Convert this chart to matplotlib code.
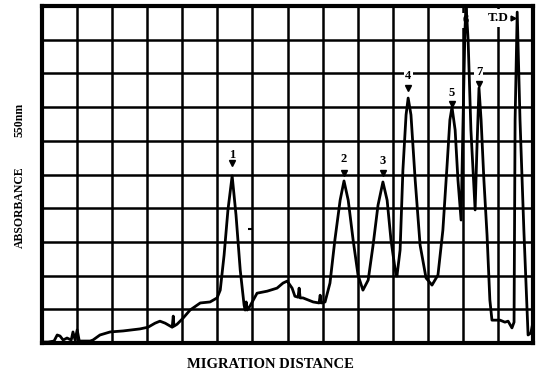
import matplotlib
matplotlib.use("Agg")
import matplotlib.pyplot as plt
import numpy as np

plt.rcParams.update({
    'font.family': ['Liberation Serif', 'DejaVu Serif'],
    'font.weight': 'bold',
})

# densitometer trace, in chart grid units (14 x 10 squares)
distance = [0.06, 0.17, 0.34, 0.43, 0.51, 0.60, 0.71, 0.83, 0.88, 0.94, 1.00, 1.06,
            1.37, 1.45, 1.65, 1.94, 2.31, 2.79, 3.02, 3.22, 3.36, 3.51, 3.71, 3.74,
            3.76, 3.85, 4.02, 4.22, 4.51, 4.79, 4.99, 5.08, 5.19, 5.30, 5.42, 5.53,
            5.65, 5.76, 5.79, 5.82, 5.85, 5.93, 6.13, 6.42, 6.70, 6.87, 6.99, 7.13,
            7.21, 7.30, 7.33, 7.36, 7.44, 7.73, 7.90, 7.93, 7.96, 8.07, 8.21, 8.35,
            8.50, 8.61, 8.73, 8.87, 9.01, 9.15, 9.30, 9.44, 9.58, 9.72, 9.84, 9.95,
            10.07, 10.12, 10.21, 10.29, 10.38, 10.44, 10.52, 10.64, 10.78, 10.95, 11.12, 11.29,
            11.43, 11.55, 11.63, 11.69, 11.78, 11.86, 11.95, 12.00, 12.06, 12.09, 12.15, 12.23,
            12.35, 12.40, 12.46, 12.52, 12.60, 12.69, 12.77, 12.83, 13.06, 13.20, 13.29, 13.40,
            13.46, 13.49, 13.55, 13.63, 13.74, 13.86, 13.94, 14.00]
absorbance = [0.03, 0.03, 0.06, 0.24, 0.21, 0.09, 0.15, 0.09, 0.33, 0.09, 0.39, 0.06,
              0.06, 0.09, 0.24, 0.33, 0.36, 0.42, 0.47, 0.59, 0.65, 0.59, 0.47, 0.80,
              0.50, 0.56, 0.74, 0.98, 1.19, 1.22, 1.34, 1.57, 2.61, 3.95, 4.96, 3.80,
              2.17, 1.13, 0.98, 1.22, 0.98, 1.10, 1.48, 1.54, 1.63, 1.78, 1.84, 1.63,
              1.39, 1.36, 1.63, 1.34, 1.34, 1.22, 1.19, 1.42, 1.19, 1.22, 1.78, 3.06,
              4.24, 4.81, 4.24, 3.06, 2.02, 1.57, 1.87, 2.91, 4.09, 4.78, 4.24, 3.06,
              2.17, 1.99, 2.76, 5.13, 6.77, 7.27, 6.77, 4.84, 2.91, 1.93, 1.72, 2.02,
              3.35, 5.28, 6.62, 7.00, 6.32, 4.84, 3.65, 6.32, 9.29, 10.06, 8.99, 6.32,
              3.95, 5.73, 7.57, 6.62, 4.84, 3.20, 1.28, 0.68, 0.68, 0.62, 0.65, 0.45,
              0.62, 6.62, 9.82, 6.62, 3.35, 0.24, 0.30, 0.62]

# band labels with their marker triangles
band_names = ['1', '2', '3', '4', '5', '6', '7']
band_x = [5.42, 8.61, 9.72, 10.44, 11.69, 12.09, 12.46]
band_label_y = [5.58, 5.46, 5.40, 7.92, 7.42, 9.58, 8.04]
band_tri_y = [5.34, 5.04, 5.04, 7.57, 7.09, None, 7.69]

td_x, td_y = 13.0, 9.64

fig = plt.figure(figsize=(5.4, 3.77), dpi=100)
ax = fig.add_axes([0.078, 0.090, 0.909, 0.894])

ax.set_xlim(0, 14)
ax.set_ylim(0, 10)
ax.set_xticks(np.arange(15))
ax.set_yticks(np.arange(11))
ax.grid(True, color='black', lw=1.8, zorder=1)
ax.set_axisbelow(True)
ax.tick_params(length=0, labelbottom=False, labelleft=False)
for s in ax.spines.values():
    s.set_linewidth(3)

ax.plot(distance, absorbance, color='black', lw=2.0, solid_joinstyle='round', zorder=4)

for name, x, ly, ty in zip(band_names, band_x, band_label_y, band_tri_y):
    ax.text(x, ly, name, ha='center', va='center', fontsize=9, zorder=3,
            bbox=dict(facecolor='white', edgecolor='none', pad=1))
    if ty is not None:
        ax.plot(x, ty, marker='v', color='black', markersize=4.5, zorder=5)

ax.text(td_x, td_y, 'T.D', ha='center', va='center', fontsize=9.5, zorder=3,
        bbox=dict(facecolor='white', edgecolor='none', pad=2))
ax.plot(td_x + 0.42, td_y, marker='>', color='black', markersize=3.5, zorder=5)

# stray pen mark
ax.plot(5.93, 3.38, marker='_', color='black', markersize=3, mew=1.5, zorder=5)

fig.text(0.5, 0.032, 'MIGRATION DISTANCE', ha='center', va='center', fontsize=10.5)
fig.text(0.037, 0.451, 'ABSORBANCE', ha='center', va='center', rotation=90, fontsize=8.5)
fig.text(0.037, 0.682, '550nm', ha='center', va='center', rotation=90, fontsize=8.5)

fig.savefig('out.png', dpi=100)
